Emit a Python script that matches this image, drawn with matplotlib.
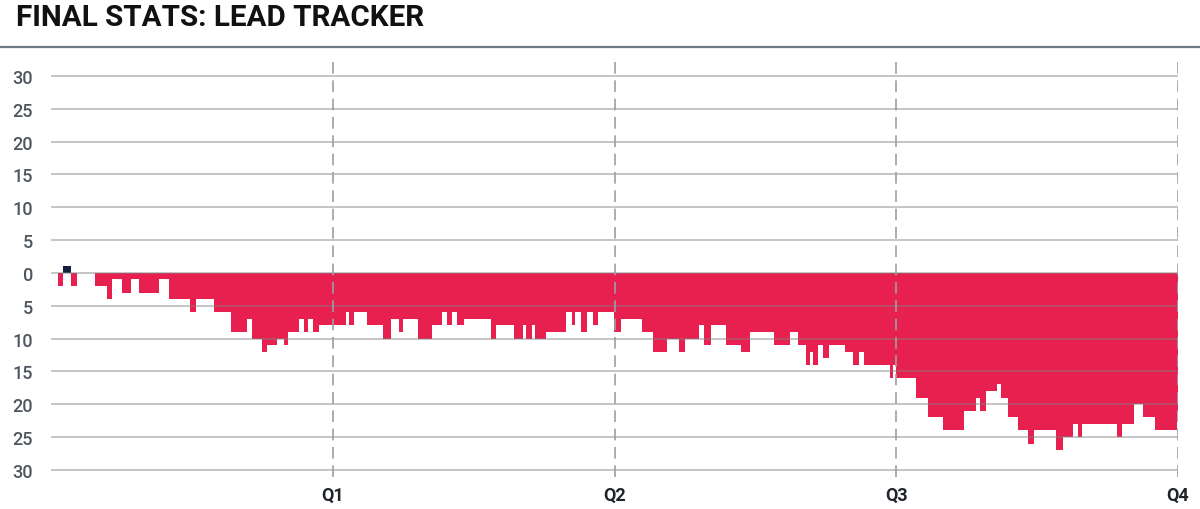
import numpy as np
import matplotlib
matplotlib.use("Agg")
import matplotlib.pyplot as plt
from matplotlib.lines import Line2D

# ---- data: score-margin changes (game minutes elapsed, margin from that moment) ----
change_minutes = [
    0.00, 0.31, 0.50, 0.85, 1.11, 1.87, 2.40, 2.61, 3.04, 3.41, 3.75, 4.61, 5.04,
    5.92, 6.18, 6.96, 7.65, 8.36, 8.57, 9.00, 9.19, 9.64, 9.91, 10.11, 10.55,
    10.76, 10.93, 11.15, 11.43, 12.56, 12.69, 12.91, 13.47, 14.13, 14.47, 14.81,
    15.01, 15.62, 16.21, 16.64, 16.88, 17.09, 17.30, 17.59, 18.74, 18.94, 19.73,
    20.12, 20.23, 20.50, 20.61, 21.08, 21.93, 22.20, 22.32, 22.57, 22.84, 23.10,
    23.31, 23.99, 24.26, 25.16, 25.65, 26.22, 26.73, 27.02, 27.61, 27.81, 28.12,
    28.75, 29.38, 29.77, 30.79, 31.48, 31.83, 32.14, 32.33, 32.47, 32.68, 32.89,
    33.14, 33.82, 34.17, 34.43, 34.64, 35.73, 35.87, 36.01, 36.84, 37.37, 37.98,
    38.89, 39.40, 39.57, 39.82, 40.30, 40.45, 40.77, 41.20, 41.63, 41.85, 42.80,
    43.12, 43.54, 43.73, 43.90, 45.42, 45.63, 46.14, 46.52, 47.03, 47.97,
]
margins = [
    0, -2, 1, -2, 0, -2, -4, -1, -3, -1, -3, -1, -4,
    -6, -4, -6, -9, -7, -10, -12, -11, -10, -11, -9, -7,
    -9, -7, -9, -8, -6, -8, -6, -8, -10, -7, -9,
    -7, -10, -8, -6, -8, -6, -8, -7, -10, -8, -10,
    -8, -10, -8, -10, -9, -6, -8, -6, -9, -6, -8,
    -6, -9, -7, -9, -12, -10, -12, -10, -8, -11, -8,
    -11, -12, -9, -11, -9, -11, -14, -12, -14, -11, -13,
    -11, -12, -14, -12, -14, -16, -14, -16, -19, -22, -24,
    -21, -19, -21, -18, -17, -19, -22, -24, -26, -24, -27,
    -25, -23, -25, -23, -25, -23, -20, -22, -24, -21,
]
game_end = 48.0
quarter_ends = [12, 24, 36, 48]
quarter_labels = ["Q1", "Q2", "Q3", "Q4"]
y_ticks = [30, 25, 20, 15, 10, 5, 0, -5, -10, -15, -20, -25, -30]
title = "FINAL STATS: LEAD TRACKER"

RED = "#E8204F"
NAVY = "#14203A"

W, H = 1200, 510
fig = plt.figure(figsize=(W / 100, H / 100), dpi=100)
fig.patch.set_facecolor("white")

ax = fig.add_axes([51 / W, 1 - 478 / H, (1178 - 51) / W, (478 - 60) / H])
ax.set_facecolor("white")

edges = list(change_minutes) + [game_end]
vals = np.array(margins, dtype=float)
ax.stairs(np.minimum(vals, 0), edges, baseline=0, fill=True, color=RED, lw=0, zorder=2)
ax.stairs(np.maximum(vals, 0), edges, baseline=0, fill=True, color=NAVY, lw=0, zorder=2)

# horizontal gridlines drawn over the bars
for yv in y_ticks:
    ax.axhline(yv, color="#7f7f7f", lw=1.4, alpha=0.45, zorder=3)

# quarter dividers
for q in quarter_ends:
    ax.axvline(q, color="#9aa0a6", lw=1.2, ls=(0, (7, 4)), zorder=4)

ax.set_xlim(0, game_end)
ax.set_ylim(-31.1, 32.6)
for s in ax.spines.values():
    s.set_visible(False)

ax.set_yticks(y_ticks)
ax.set_yticklabels([str(abs(v)) for v in y_ticks])
ax.set_xticks(quarter_ends)
ax.set_xticklabels(quarter_labels)
ax.tick_params(axis="y", length=0, pad=13, labelsize=13, labelcolor="#4f565e")
ax.tick_params(axis="x", length=0, pad=6, labelsize=13, labelcolor="#1f242b")
for lbl in ax.get_yticklabels():
    lbl.set_fontfamily("Roboto")
    lbl.set_fontweight("medium")
for lbl in ax.get_xticklabels():
    lbl.set_fontfamily("Roboto")
    lbl.set_fontweight("bold")

fig.text(16 / W, 1 - 18 / H, title, fontsize=21.3, fontweight="bold", family="Roboto",
         color="#111111", ha="left", va="center")
fig.add_artist(Line2D([0, 1], [1 - 47.5 / H, 1 - 47.5 / H], transform=fig.transFigure,
                      color="#6f7a85", lw=1.6))

fig.savefig("out.png", dpi=100, facecolor="white")
